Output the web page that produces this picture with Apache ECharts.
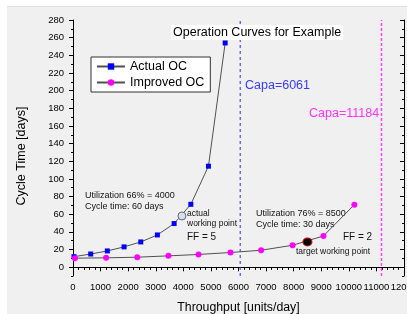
<!DOCTYPE html>
<html>
<head>
<meta charset="utf-8">
<script src="https://cdn.jsdelivr.net/npm/echarts@6/dist/echarts.min.js"></script>
<style>
  html, body { margin: 0; padding: 0; background: #fff; }
  #main { position: absolute; left: 7px; top: 6px; width: 400px; height: 308px;
          background: #f0f0f0; border-top: 1px solid #dedee8; box-sizing: border-box; }
</style>
</head>
<body>
<div id="main"></div>
<script>
// Actual OC (blue squares)
var actualX = [36, 642, 1245, 1851, 2457, 3060, 3666, 4272, 4911, 5517];
var actualY = [11.9, 14.9, 18.4, 23, 28.6, 36.5, 49.4, 71.2, 114.4, 254];
// Improved OC (magenta circles)
var improvedX = [70, 1200, 2330, 3460, 4550, 5710, 6820, 7960, 9080, 10200];
var improvedY = [10.2, 10.6, 11.3, 12.8, 14.4, 16.6, 19.2, 24.8, 35.4, 70.8];
// working points
var actualPoint = [3950, 58];
var targetPoint = [8500, 28.6];
// capacity lines
var capa = [6061, 11184];
// y range and tick values
var yRange = [-10, 280];
var yMajor = [0, 20, 40, 60, 80, 100, 120, 140, 160, 180, 200, 220, 240, 260, 280];
var yMinor = [-10, 10, 30, 50, 70, 90, 110, 130, 150, 170, 190, 210, 230, 250, 270];

function zip(a, b) {
    var r = [];
    for (var i = 0; i < a.length; i++) r.push([a[i], b[i]]);
    return r;
}

var myChart = echarts.init(document.getElementById('main'));

var font = 'Liberation Sans, Arial, sans-serif';

var yBase = { type: 'value', min: yRange[0], max: yRange[1], splitLine: { show: false } };

var option = {
    animation: false,
    textStyle: { fontFamily: font },
    title: {
        text: 'Operation Curves for Example',
        left: 164, top: 18,
        padding: [1, 2],
        backgroundColor: '#fff',
        textStyle: { fontSize: 12.5, fontWeight: 'normal', color: '#000', fontFamily: font }
    },
    legend: {
        data: ['Actual OC', 'Improved OC'],
        orient: 'vertical',
        left: 84, top: 50,
        backgroundColor: '#fff',
        borderColor: '#333', borderWidth: 1, borderRadius: 0,
        padding: [3, 6, 3, 5],
        itemGap: 3,
        itemWidth: 28, itemHeight: 8,
        textStyle: { fontSize: 12.5, color: '#000', fontFamily: font }
    },
    grid: { left: 66, top: 13, right: 3, bottom: 38, containLabel: false, outerBoundsMode: 'none' },
    xAxis: [{
        type: 'value', position: 'bottom', min: 0, max: 12000, interval: 1000,
        name: 'Throughput [units/day]', nameLocation: 'middle', nameGap: 26,
        nameTextStyle: { fontSize: 12.3, color: '#000', fontFamily: font },
        axisLine: { lineStyle: { color: '#000', width: 1 } },
        axisTick: { length: 4, lineStyle: { color: '#000' } },
        minorTick: { show: true, splitNumber: 5, length: 2.5, lineStyle: { color: '#000' } },
        axisLabel: { margin: 6, fontSize: 9.5, color: '#000', interval: 0, hideOverlap: false,
                     formatter: function (v) { return String(v); },
                     fontFamily: 'Liberation Sans Narrow, Liberation Sans, Arial, sans-serif' },
        splitLine: { show: false }
    }, {
        type: 'value', position: 'top', min: 0, max: 12000, interval: 1000,
        axisLine: { lineStyle: { color: '#000', width: 1 } },
        axisTick: { inside: true, length: 4, lineStyle: { color: '#000' } },
        minorTick: { show: true, splitNumber: 5, length: 2.5, lineStyle: { color: '#000' } },
        axisLabel: { show: false },
        splitLine: { show: false }
    }],
    yAxis: [
        Object.assign({}, yBase, {
            position: 'left',
            name: 'Cycle Time [days]', nameLocation: 'middle', nameGap: 45,
            nameTextStyle: { fontSize: 12.5, color: '#000', fontFamily: font, padding: [0, 16, 0, 0] },
            axisLine: { show: true, lineStyle: { color: '#000', width: 1 } },
            axisTick: { show: true, length: 4, customValues: yMajor, lineStyle: { color: '#000' } },
            axisLabel: { margin: 9, fontSize: 9.5, color: '#000', customValues: yMajor }
        }),
        Object.assign({}, yBase, {
            position: 'left',
            axisLine: { show: false },
            axisTick: { show: true, length: 2, customValues: yMinor, lineStyle: { color: '#000' } },
            axisLabel: { show: false }
        }),
        Object.assign({}, yBase, {
            position: 'right',
            axisLine: { show: true, lineStyle: { color: '#000', width: 1 } },
            axisTick: { show: true, inside: true, length: 4, customValues: yMajor, lineStyle: { color: '#000' } },
            axisLabel: { show: false }
        }),
        Object.assign({}, yBase, {
            position: 'right',
            axisLine: { show: false },
            axisTick: { show: true, inside: true, length: 2, customValues: yMinor, lineStyle: { color: '#000' } },
            axisLabel: { show: false }
        })
    ],
    series: [{
        name: 'Capa actual',
        type: 'line',
        data: [[capa[0], yRange[0]], [capa[0], yRange[1]]],
        symbol: 'none', silent: true, z: 1,
        lineStyle: { color: '#2a2aff', type: [3, 3], width: 1 }
    }, {
        name: 'Capa improved',
        type: 'line',
        data: [[capa[1], yRange[0]], [capa[1], yRange[1]]],
        symbol: 'none', silent: true, z: 1,
        lineStyle: { color: '#ff40ff', type: [3, 2], width: 1.5 }
    }, {
        name: 'Actual OC',
        type: 'line',
        data: zip(actualX, actualY),
        symbol: 'rect', symbolSize: 5,
        itemStyle: { color: '#0000ff' },
        lineStyle: { color: '#505050', width: 1 }
    }, {
        name: 'Improved OC',
        type: 'line',
        data: zip(improvedX, improvedY),
        symbol: 'circle', symbolSize: 6,
        itemStyle: { color: '#ff00ff' },
        lineStyle: { color: '#505050', width: 1 }
    }, {
        name: 'actual working point',
        type: 'scatter',
        data: [actualPoint],
        symbolSize: 8,
        itemStyle: { color: '#cfe1f3', borderColor: '#666', borderWidth: 1, opacity: 1 },
        z: 5
    }, {
        name: 'target working point',
        type: 'scatter',
        data: [targetPoint],
        symbolSize: [9, 8],
        itemStyle: { color: '#000', borderColor: '#e00000', borderWidth: 1, opacity: 1 },
        z: 5
    }],
    graphic: [
        { type: 'text', left: 238, top: 72, style: { text: 'Capa=6061', fill: '#3a3aff', font: '12.5px ' + font } },
        { type: 'text', left: 302, top: 100, style: { text: 'Capa=11184', fill: '#ff33ff', font: '12.5px ' + font } },
        { type: 'text', left: 78, top: 183, style: { text: 'Utilization 66% = 4000\nCycle time: 60 days', fill: '#111', font: '9px ' + font, lineHeight: 11 } },
        { type: 'text', left: 180, top: 201, style: { text: 'actual\nworking point', fill: '#111', font: '8.5px ' + font, lineHeight: 10.5 } },
        { type: 'text', left: 180, top: 225, style: { text: 'FF = 5', fill: '#111', font: '10px ' + font } },
        { type: 'text', left: 249, top: 201, style: { text: 'Utilization 76% = 8500\nCycle time: 30 days', fill: '#111', font: '9px ' + font, lineHeight: 11 } },
        { type: 'text', left: 289, top: 240, style: { text: 'target working point', fill: '#111', font: '8.5px ' + font } },
        { type: 'text', left: 336, top: 225, style: { text: 'FF = 2', fill: '#111', font: '10px ' + font } }
    ]
};

myChart.setOption(option);
</script>
</body>
</html>
